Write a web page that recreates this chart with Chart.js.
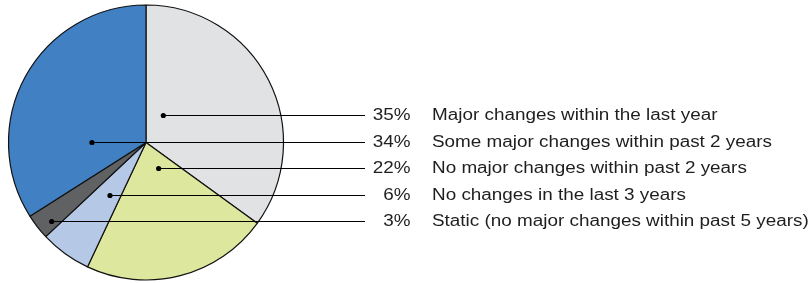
<!DOCTYPE html>
<html>
<head>
<meta charset="utf-8">
<script src="https://cdn.jsdelivr.net/npm/chart.js@4/dist/chart.umd.min.js"></script>
<style>
html,body{margin:0;padding:0;background:#fff;}
#wrap{width:812px;height:283px;}
</style>
</head>
<body>
<div id="wrap"><canvas id="c" width="812" height="283"></canvas></div>
<script>
// Categories in clockwise order starting at 12 o'clock
const categories = [
  "Major changes within the last year",
  "No major changes within past 2 years",
  "No changes in the last 3 years",
  "Static (no major changes within past 5 years)",
  "Some major changes within past 2 years"
];
const shares = [35, 22, 6, 3, 34];
// Label list order, top to bottom, as indices into categories
const labelOrder = [0, 4, 1, 2, 3];

const sliceColors = ["#e1e2e4", "#dee79e", "#b5c8e6", "#5f6163", "#4080c3"];
// Dot anchor x offsets (fraction of radius from centre), per slice
const dotOffsetX = [0.126, 0.092, -0.262, -0.686, -0.393];

const FONT = '16px "Liberation Sans", Arial, sans-serif';
const STRETCH = 1.18;

const leaderPlugin = {
  id: 'leaders',
  afterDraw(chart) {
    const ctx = chart.ctx;
    const meta = chart.getDatasetMeta(0);
    const arc0 = meta.data[0];
    const cx = arc0.x, cy = arc0.y, R = arc0.outerRadius;
    const rowGap = 26.5;
    const lineEnd = 365;
    const pctRight = 410.5;
    const textLeft = 432;
    ctx.save();
    ctx.font = FONT;
    ctx.textBaseline = 'middle';
    labelOrder.forEach((idx, row) => {
      const y = Math.round(cy - 27.5 + row * rowGap) + 0.5;
      const dx = cx + dotOffsetX[idx] * R;
      ctx.strokeStyle = '#000';
      ctx.lineWidth = 1.2;
      ctx.beginPath();
      ctx.moveTo(dx, y);
      ctx.lineTo(lineEnd, y);
      ctx.stroke();
      ctx.fillStyle = '#000';
      ctx.beginPath();
      ctx.arc(dx, y, 2.6, 0, Math.PI * 2);
      ctx.fill();
      ctx.fillStyle = '#1e1e1e';
      ctx.save();
      ctx.translate(pctRight, y + 0.5);
      ctx.scale(STRETCH, 1);
      ctx.textAlign = 'right';
      ctx.fillText(shares[idx] + '%', 0, 0);
      ctx.restore();
      ctx.save();
      ctx.translate(textLeft, y + 0.5);
      ctx.scale(STRETCH, 1);
      ctx.textAlign = 'left';
      ctx.fillText(categories[idx], 0, 0);
      ctx.restore();
    });
    ctx.restore();
  }
};

new Chart(document.getElementById('c'), {
  type: 'pie',
  data: {
    labels: categories,
    datasets: [{
      data: shares,
      backgroundColor: sliceColors,
      borderColor: '#111',
      borderWidth: 1.2,
      radius: 137.5,
      offset: 0,
      hoverOffset: 0
    }]
  },
  options: {
    responsive: false,
    animation: false,
    layout: { padding: { left: 8.5, right: 528.5, top: 5, bottom: 3 } },
    plugins: { legend: { display: false }, tooltip: { enabled: false } }
  },
  plugins: [leaderPlugin]
});
</script>
</body>
</html>
